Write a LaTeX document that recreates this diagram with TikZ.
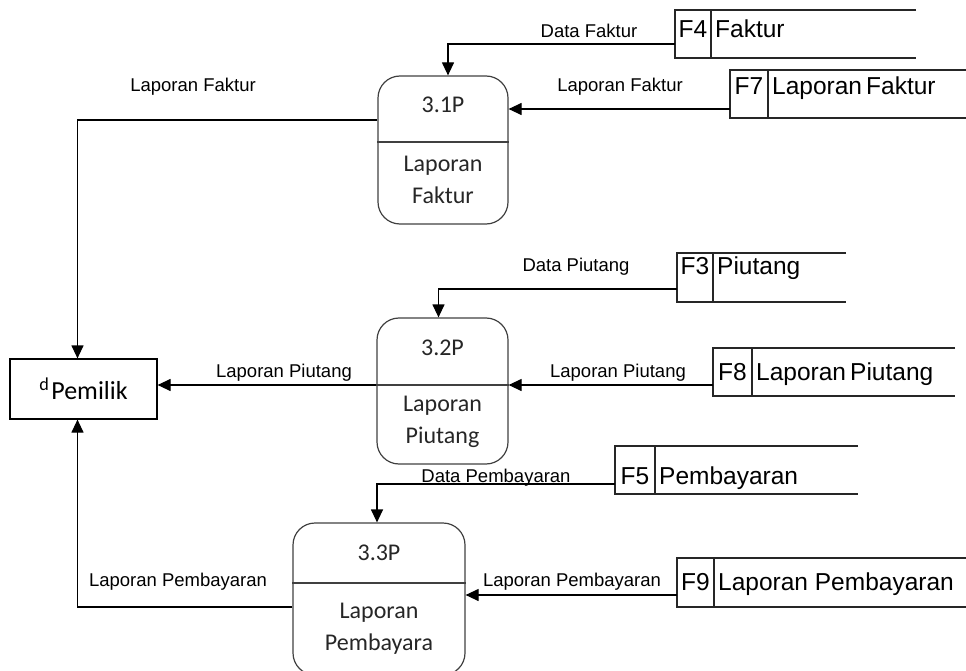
\documentclass[tikz,border=0pt]{standalone}
\usepackage{fontspec}
\setmainfont{Liberation Sans}
\newfontfamily\procfont{Carlito}
\usetikzlibrary{arrows.meta}

\tikzset{
  flow/.style={line width=1.2pt, draw=black, -{Triangle[length=13pt,width=12pt]}},
  flowlabel/.style={font=\fontsize{18.5}{22}\selectfont, inner sep=1pt, text=black},
  storeline/.style={line width=1.2pt, draw=black!85},
  storetext/.style={font=\fontsize{24.5}{28}\selectfont, inner sep=0pt, text=black,
    text height=18pt, text depth=5pt},
  proc/.style={draw=black!75, line width=1.2pt, rounded corners=22pt, inner sep=0pt},
  ptext/.style={font=\procfont\fontsize{24}{32}\selectfont, text=black!85, align=center, inner sep=0pt},
  entity/.style={draw=black, line width=1.2pt, inner sep=0pt,
    font=\procfont\fontsize{26}{30}\selectfont},
}

% data store: #1 name, #2 left, #3 top, #4 bottom, #5 divider x, #6 right end,
% #7 id, #8 title, #9 text y
\newcommand\dstore[9]{%
  \draw[storeline] (#6,#3) -- (#2,#3) -- (#2,#4) -- (#6,#4) (#5,#3) -- (#5,#4);
  \node[storetext] (#1) at ({(#2+#5)/2},#9) {#7};
  \node[storetext, anchor=west] (#1-t) at ({#5+4},#9) {#8};
}

\begin{document}
\begin{tikzpicture}[x=1pt,y=-1pt]
\useasboundingbox (0,0) rectangle (966,671);
\begin{scope}
\clip (0,0) rectangle (966,671);

% processes
\node[proc, minimum width=130, minimum height=148] (p1) at (443,150) {};
\draw[proc, rounded corners=0pt] (p1.west |- 0,142) -- (p1.east |- 0,142);
\node[ptext] (p1-id) at (443,105) {3.1P};
\node[ptext] (p1-t) at (443,180) {Laporan\\Faktur};

\node[proc, minimum width=131, minimum height=146] (p2) at (442.5,391) {};
\draw[proc, rounded corners=0pt] (p2.west |- 0,385) -- (p2.east |- 0,385);
\node[ptext] (p2-id) at (442.5,348) {3.2P};
\node[ptext] (p2-t) at (442.5,422) {Laporan\\Piutang};

\node[proc, minimum width=172, minimum height=152] (p3) at (379,599) {};
\draw[proc, rounded corners=0pt] (p3.west |- 0,583) -- (p3.east |- 0,583);
\node[ptext] (p3-id) at (379,553) {3.3P};
\node[ptext] (p3-t) at (379,629) {Laporan\\Pembayara};

% external entity
\node[entity, minimum width=147, minimum height=60] (pem) at (83.5,389) {\textsuperscript{d}\kern2pt Pemilik};

% data stores
\dstore{f4}{675}{10}{58}{711}{916}{F4}{Faktur}{31}
\dstore{f7}{730}{70}{118}{768}{975}{F7}{Laporan\,Faktur}{88}
\dstore{f3}{677}{253}{302}{713}{846}{F3}{Piutang}{268}
\dstore{f8}{713}{348}{396}{752}{955}{F8}{Laporan\,Piutang}{374}
\dstore{f5}{615}{446}{494}{655}{858}{F5}{Pembayaran}{478}
\dstore{f9}{677}{558}{607}{714}{975}{F9}{Laporan Pembayaran}{584}

\coordinate (f4-out) at (675,44);
\coordinate (f7-out) at (730,109);
\coordinate (f3-out) at (677,289);
\coordinate (f8-out) at (713,385);
\coordinate (f5-out) at (615,484);
\coordinate (f9-out) at (677,595);

% flows into the processes
\draw[flow] (f4-out) -| ([xshift=5pt]p1.north);
\draw[flow] (f7-out) -- (p1.east |- f7-out);
\draw[flow] (f3-out) -| ([xshift=-4pt]p2.north);
\draw[flow] (f8-out) -- (p2.east |- f8-out);
\draw[flow] (f5-out) -| ([xshift=-2pt]p3.north);
\draw[flow] (f9-out) -- (p3.east |- f9-out);

% flows to the owner
\draw[flow] (p1.west |- 0,120) -| ([xshift=-6pt]pem.north);
\draw[flow] (p2.west |- 0,385) -- (pem.east |- 0,385);
\draw[flow] (p3.west |- 0,607) -| ([xshift=-6pt]pem.south);

% flow labels
\node[flowlabel] (l1) at (589,31) {Data Faktur};
\node[flowlabel] (l2) at (620,87) {Laporan Faktur};
\node[flowlabel] (l3) at (193,87) {Laporan Faktur};
\node[flowlabel] (l4) at (576,267) {Data Piutang};
\node[flowlabel] (l5) at (618,373) {Laporan Piutang};
\node[flowlabel] (l6) at (284,373) {Laporan Piutang};
\node[flowlabel] (l7) at (496,478) {Data Pembayaran};
\node[flowlabel] (l8) at (572,582) {Laporan Pembayaran};
\node[flowlabel] (l9) at (178,582) {Laporan Pembayaran};
\end{scope}
\end{tikzpicture}
\end{document}
